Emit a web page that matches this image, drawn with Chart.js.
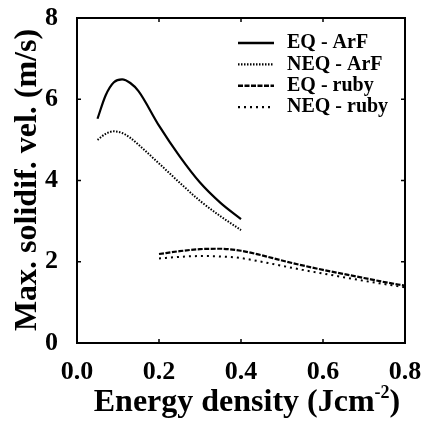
<!DOCTYPE html>
<html>
<head>
<meta charset="utf-8">
<script src="https://cdn.jsdelivr.net/npm/chart.js@4/dist/chart.umd.min.js"></script>
<style>
  html, body { margin: 0; padding: 0; background: #fff; }
  #wrap { width: 421px; height: 424px; }
</style>
</head>
<body>
<div id="wrap"><canvas id="chart"></canvas></div>
<script>
// values
const arfX = [0.05, 0.07, 0.09, 0.11, 0.13, 0.15, 0.2, 0.25, 0.3, 0.35, 0.4]
const eqArf = [5.52, 6.1, 6.42, 6.49, 6.4, 6.2, 5.35, 4.6, 3.95, 3.45, 3.05]
const neqArf = [5.0, 5.15, 5.21, 5.17, 5.05, 4.88, 4.42, 3.95, 3.5, 3.12, 2.78]

const rubyX = [0.2, 0.25, 0.3, 0.35, 0.4, 0.45, 0.5, 0.55, 0.6, 0.65, 0.7, 0.75, 0.8]
const eqRuby = [2.19, 2.26, 2.31, 2.32, 2.27, 2.16, 2.03, 1.91, 1.8, 1.7, 1.6, 1.5, 1.41]
const neqRuby = [2.08, 2.12, 2.14, 2.13, 2.09, 2.0, 1.9, 1.8, 1.71, 1.62, 1.53, 1.45, 1.37]

const seriesNames = ["EQ - ArF", "NEQ - ArF", "EQ - ruby", "NEQ - ruby"]
const xTicks = [0, 0.2, 0.4, 0.6, 0.8]
const yTicks = [0, 2, 4, 6, 8]

const serif = "'Liberation Serif', 'Times New Roman', serif"
const pts = (xs, ys) => xs.map((x, i) => ({ x: x, y: ys[i] }))

const line = (label, data, dash, width) => ({
  label: label,
  data: data,
  borderColor: "#000",
  borderWidth: width,
  borderDash: dash,
  pointRadius: 0,
  fill: false,
  cubicInterpolationMode: "monotone",
})

// frame, inward ticks, titles and legend
const decorations = {
  id: "decorations",
  afterDraw(chart) {
    const ctx = chart.ctx
    const a = chart.chartArea
    const xs = chart.scales.x
    const ys = chart.scales.y
    ctx.save()
    ctx.strokeStyle = "#000"
    ctx.lineWidth = 2
    ctx.strokeRect(a.left, a.top, a.right - a.left, a.bottom - a.top)

    ctx.lineWidth = 1.5
    ctx.beginPath()
    xTicks.forEach((v) => {
      const px = xs.getPixelForValue(v)
      ctx.moveTo(px, a.bottom); ctx.lineTo(px, a.bottom - 4)
      ctx.moveTo(px, a.top); ctx.lineTo(px, a.top + 4)
    })
    yTicks.forEach((v) => {
      const py = ys.getPixelForValue(v)
      ctx.moveTo(a.left, py); ctx.lineTo(a.left + 4, py)
      ctx.moveTo(a.right, py); ctx.lineTo(a.right - 4, py)
    })
    ctx.stroke()

    // x title with superscript
    ctx.fillStyle = "#000"
    ctx.textBaseline = "alphabetic"
    ctx.textAlign = "left"
    const big = "bold 32px " + serif
    const small = "bold 18px " + serif
    const t1 = "Energy density (Jcm"
    const t2 = "-2"
    const t3 = ")"
    ctx.font = big
    const w1 = ctx.measureText(t1).width
    const w3 = ctx.measureText(t3).width
    ctx.font = small
    const w2 = ctx.measureText(t2).width
    const x0 = 247 - (w1 + w2 + w3) / 2
    const base = 411
    ctx.font = big
    ctx.fillText(t1, x0, base)
    ctx.font = small
    ctx.fillText(t2, x0 + w1, base - 13)
    ctx.font = big
    ctx.fillText(t3, x0 + w1 + w2, base)

    // y title
    ctx.save()
    ctx.translate(28, 180)
    ctx.rotate(-Math.PI / 2)
    ctx.textAlign = "center"
    ctx.textBaseline = "middle"
    ctx.font = big
    ctx.fillText("Max. solidif. vel. (m/s)", 0, 0)
    ctx.restore()

    // legend
    ctx.font = "bold 20px " + serif
    ctx.textBaseline = "middle"
    ctx.textAlign = "left"
    chart.data.datasets.forEach((ds, i) => {
      const y = 43 + i * 21.4
      ctx.beginPath()
      ctx.lineWidth = ds.borderWidth + 0.3
      ctx.setLineDash(ds.borderDash)
      ctx.moveTo(238, y)
      ctx.lineTo(274, y)
      ctx.stroke()
      ctx.setLineDash([])
      ctx.fillText(ds.label, 287, y)
    })
    ctx.restore()
  },
}

new Chart(document.getElementById("chart"), {
  type: "line",
  data: {
    datasets: [
      line(seriesNames[0], pts(arfX, eqArf), [], 2.2),
      line(seriesNames[1], pts(arfX, neqArf), [1.5, 1.5], 2),
      line(seriesNames[2], pts(rubyX, eqRuby), [5, 1.5], 2.2),
      line(seriesNames[3], pts(rubyX, neqRuby), [2, 4], 2),
    ],
  },
  options: {
    responsive: true,
    maintainAspectRatio: false,
    animation: false,
    layout: { padding: { top: 18, right: 16, left: 0, bottom: 0 } },
    plugins: {
      legend: { display: false },
      tooltip: { enabled: false },
    },
    scales: {
      x: {
        type: "linear",
        min: 0,
        max: 0.8,
        afterFit: (s) => {
          s.height = 81
          s.paddingLeft = 0
          s.paddingRight = 0
        },
        afterBuildTicks: (s) => { s.ticks = xTicks.map((v) => ({ value: v })) },
        grid: { display: false },
        border: { display: false },
        ticks: {
          color: "#000",
          padding: 6,
          maxRotation: 0,
          font: { family: serif, weight: "bold", size: 26 },
          callback: (v) => v.toFixed(1),
        },
      },
      y: {
        min: 0,
        max: 8,
        afterFit: (s) => {
          s.width = 77
          s.paddingTop = 0
          s.paddingBottom = 0
        },
        afterBuildTicks: (s) => { s.ticks = yTicks.map((v) => ({ value: v })) },
        grid: { display: false },
        border: { display: false },
        ticks: {
          color: "#000",
          padding: 11,
          font: { family: serif, weight: "bold", size: 26 },
        },
      },
    },
  },
  plugins: [decorations],
})
</script>
</body>
</html>
